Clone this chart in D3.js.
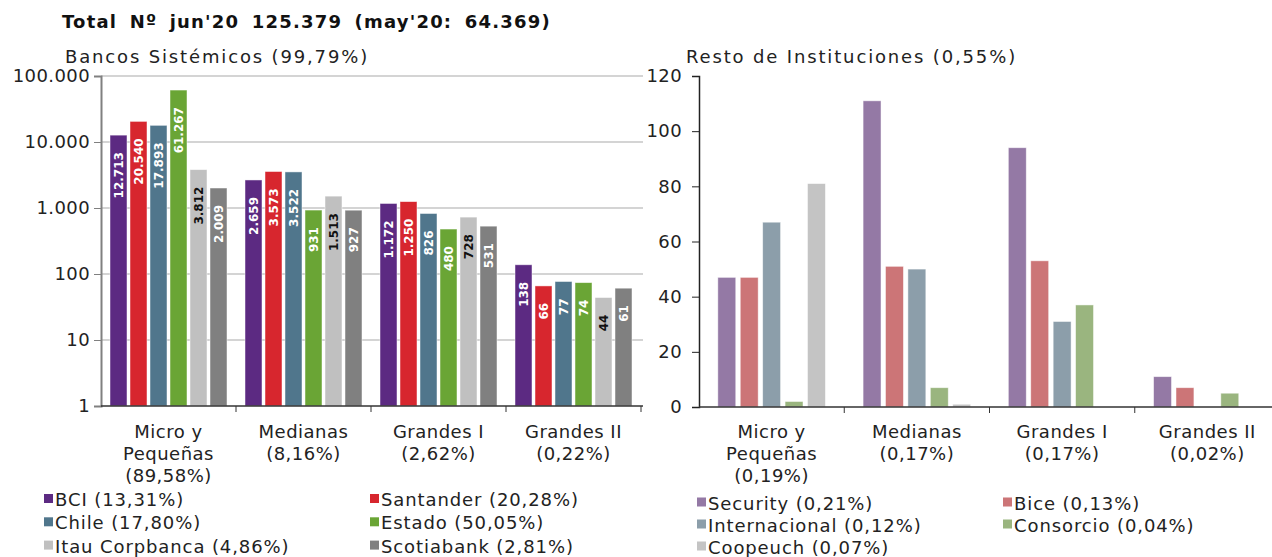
<!DOCTYPE html>
<html>
<head>
<meta charset="utf-8">
<script src="https://cdn.jsdelivr.net/npm/d3@7"></script>
<style>
  body { margin: 0; background: #fff; }
  svg { font-family: "DejaVu Sans", Verdana, sans-serif; }
</style>
</head>
<body>
<svg id="drawing_region"></svg>
<script>
// ---- data ----
const categories = ["Micro y Pequeñas", "Medianas", "Grandes I", "Grandes II"];
const categoryLines = [["Micro y", "Pequeñas"], ["Medianas"], ["Grandes I"], ["Grandes II"]];
const sistemicosPct = ["(89,58%)", "(8,16%)", "(2,62%)", "(0,22%)"];
const restoPct = ["(0,19%)", "(0,17%)", "(0,17%)", "(0,02%)"];

const sistemicosBanks = ["BCI", "Santander", "Chile", "Estado", "Itau Corpbanca", "Scotiabank"];
const sistemicosShare = ["(13,31%)", "(20,28%)", "(17,80%)", "(50,05%)", "(4,86%)", "(2,81%)"];
const sistemicosColors = ["#5c2a82", "#d7262e", "#50768c", "#6aa535", "#c0c0c0", "#808080"];
const bciValues = [12713, 2659, 1172, 138];
const santanderValues = [20540, 3573, 1250, 66];
const chileValues = [17893, 3522, 826, 77];
const estadoValues = [61267, 931, 480, 74];
const itauValues = [3812, 1513, 728, 44];
const scotiaValues = [2009, 927, 531, 61];

const restoBanks = ["Security", "Bice", "Internacional", "Consorcio", "Coopeuch"];
const restoShare = ["(0,21%)", "(0,13%)", "(0,12%)", "(0,04%)", "(0,07%)"];
const restoColors = ["#9479a5", "#cc7577", "#8c9eaa", "#9ab57f", "#c4c4c4"];
const securityValues = [47, 111, 94, 11];
const biceValues = [47, 51, 53, 7];
const internacionalValues = [67, 50, 31, 0];
const consorcioValues = [2, 7, 37, 5];
const coopeuchValues = [81, 1, 0, 0];

const logTicks = [1, 10, 100, 1000, 10000, 100000];
const linTicks = [0, 20, 40, 60, 80, 100, 120];

const titleText = "Total Nº jun'20 125.379 (may'20: 64.369)";
const leftSubtitle = "Bancos Sistémicos (99,79%)";
const rightSubtitle = "Resto de Instituciones (0,55%)";

// ---- build tables ----
const sistemicosSeries = [bciValues, santanderValues, chileValues, estadoValues, itauValues, scotiaValues];
const restoSeries = [securityValues, biceValues, internacionalValues, consorcioValues, coopeuchValues];

const es = d3.formatLocale({ decimal: ",", thousands: ".", grouping: [3], currency: ["", ""] });
const fmt = es.format(",d");

const svg = d3.select("#drawing_region")
    .attr("width", 1272)
    .attr("height", 557);

svg.append("text")
    .attr("x", 62).attr("y", 28)
    .attr("font-size", "18px").attr("font-weight", "bold")
    .attr("letter-spacing", "1.2px").attr("word-spacing", "5px")
    .attr("fill", "#111")
    .text(titleText);

function drawChart(cfg) {
    const x = d3.scaleBand().domain(categories).range([cfg.left, cfg.right]);
    const xi = d3.scaleBand().domain(cfg.banks).range([0, x.bandwidth()])
        .paddingInner(cfg.padInner).paddingOuter(cfg.padOuter);
    const y = cfg.log
        ? d3.scaleLog().domain([1, 100000]).range([cfg.bottom, cfg.top])
        : d3.scaleLinear().domain([0, 120]).range([cfg.bottom, cfg.top]);

    const g = svg.append("g");

    svg.append("text")
        .attr("x", cfg.subX).attr("y", 63)
        .attr("font-size", "18px").attr("letter-spacing", "1.85px")
        .attr("fill", "#222")
        .text(cfg.subtitle);

    // gridlines
    if (cfg.grid) {
        g.append("g").selectAll("line")
            .data(cfg.ticks.filter(t => t > 1))
            .join("line")
            .attr("x1", cfg.left).attr("x2", cfg.gridRight)
            .attr("y1", d => y(d)).attr("y2", d => y(d))
            .attr("stroke", "#d4d4d4").attr("stroke-width", 2);
    }

    // bars
    const rows = [];
    cfg.series.forEach((vals, i) => {
        vals.forEach((v, j) => rows.push({ bank: cfg.banks[i], idx: i, cat: categories[j], value: v }));
    });
    const bars = rows.filter(d => d.value > 0);

    g.append("g").selectAll("rect")
        .data(bars)
        .join("rect")
        .attr("x", d => x(d.cat) + xi(d.bank))
        .attr("y", d => y(d.value))
        .attr("width", xi.bandwidth())
        .attr("height", d => y(cfg.log ? 1 : 0) - y(d.value))
        .attr("fill", d => cfg.colors[d.idx])
        .attr("stroke", "#fff").attr("stroke-opacity", 0.6).attr("stroke-width", 0.8);

    if (cfg.labels) {
        g.append("g").selectAll("text")
            .data(bars)
            .join("text")
            .attr("transform", d => `translate(${x(d.cat) + xi(d.bank) + xi.bandwidth() / 2 + 0.5},${y(d.value) + 17}) rotate(-90)`)
            .attr("text-anchor", "end")
            .attr("dominant-baseline", "central")
            .attr("font-size", "12px").attr("font-weight", "bold")
            .attr("fill", d => d.idx === 4 ? "#111" : "#fff")
            .text(d => fmt(d.value));
    }

    // y axis
    const yAxis = d3.axisLeft(y).tickValues(cfg.ticks).tickSize(7).tickPadding(cfg.tickPad)
        .tickFormat(cfg.log ? fmt : d3.format("d"));
    const ya = g.append("g").attr("transform", `translate(${cfg.left},0)`).call(yAxis);
    ya.select(".domain").attr("stroke", cfg.axisColor).attr("stroke-width", cfg.log ? 2 : 1.5);
    ya.selectAll(".tick line").attr("stroke", cfg.axisColor);
    ya.selectAll(".tick text").attr("font-size", "18px").attr("fill", "#222")
        .attr("letter-spacing", "0.4px")
        .attr("font-family", "DejaVu Sans, Verdana, sans-serif");

    // x axis: line + ticks at band boundaries
    g.append("line")
        .attr("x1", cfg.left).attr("x2", cfg.axisRight)
        .attr("y1", cfg.bottom).attr("y2", cfg.bottom)
        .attr("stroke", "#333").attr("stroke-width", 1.5);
    g.append("g").selectAll("line")
        .data(categories)
        .join("line")
        .attr("x1", d => x(d) + x.bandwidth()).attr("x2", d => x(d) + x.bandwidth())
        .attr("y1", cfg.bottom).attr("y2", cfg.bottom + 6)
        .attr("stroke", "#333");

    // category labels
    categories.forEach((c, j) => {
        const lines = categoryLines[j].concat([cfg.pct[j]]);
        const t = g.append("text")
            .attr("text-anchor", "middle")
            .attr("font-size", "18px").attr("letter-spacing", "0.5px")
            .attr("fill", "#222");
        lines.forEach((ln, k) => {
            t.append("tspan")
                .attr("x", x(c) + x.bandwidth() / 2)
                .attr("y", 438 + k * 22)
                .text(ln);
        });
    });

    // legend
    const leg = g.append("g");
    cfg.banks.forEach((b, i) => {
        const col = i % 2, row = Math.floor(i / 2);
        const lx = cfg.legX[col], ly = cfg.legY + row * cfg.legStep;
        leg.append("rect")
            .attr("x", lx).attr("y", ly - 12)
            .attr("width", 9).attr("height", 9)
            .attr("fill", cfg.colors[i]);
        leg.append("text")
            .attr("x", lx + 11).attr("y", ly)
            .attr("font-size", "18px").attr("letter-spacing", "0.9px")
            .attr("fill", "#222")
            .text(`${b} ${cfg.share[i]}`);
    });
}

drawChart({
    left: 101, right: 641, gridRight: 643, axisRight: 643, top: 76, bottom: 406,
    banks: sistemicosBanks, share: sistemicosShare, colors: sistemicosColors,
    series: sistemicosSeries, pct: sistemicosPct,
    padInner: 0.15, padOuter: 0.45,
    log: true, ticks: logTicks, grid: true, labels: true,
    axisColor: "#808080", tickPad: 4,
    subX: 65, subtitle: leftSubtitle,
    legX: [44, 370], legY: 506, legStep: 23.3
});

drawChart({
    left: 699, right: 1280, axisRight: 1272, top: 76, bottom: 407,
    banks: restoBanks, share: restoShare, colors: restoColors,
    series: restoSeries, pct: restoPct,
    padInner: 0.2, padOuter: 0.84,
    log: false, ticks: linTicks, grid: false, labels: false,
    axisColor: "#222", tickPad: 10,
    subX: 686, subtitle: rightSubtitle,
    legX: [697, 1003], legY: 509.5, legStep: 22
});
</script>
</body>
</html>
